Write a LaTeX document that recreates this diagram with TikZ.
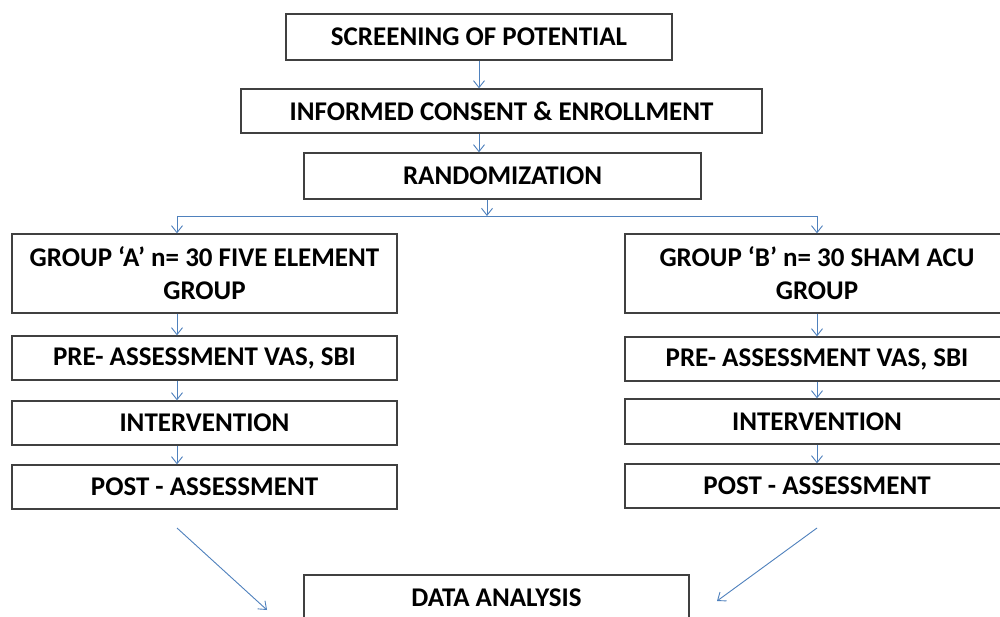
\documentclass[tikz,border=0pt]{standalone}
\usepackage{fontspec}
\setmainfont{Carlito}
\usetikzlibrary{arrows.meta}
\definecolor{arr}{HTML}{4F81BD}
\definecolor{boxc}{HTML}{404040}
\begin{document}
\begin{tikzpicture}[x=1pt,y=-1pt,
  box/.style={draw=boxc, line width=1.3pt, fill=white, inner sep=0pt,
    font=\bfseries\fontsize{27}{33}\selectfont, align=center},
  conn/.style={draw=arr, line width=0.9pt, -{Straight Barb[length=7pt,width=11pt]}},
  link/.style={draw=arr, line width=0.9pt}]
\useasboundingbox (0,0) rectangle (1000,617);
\clip (0,0) rectangle (1000,617);
\fill[white] (0,0) rectangle (1000,617);
% top chain
\node[box, minimum width=386pt, minimum height=46pt] (scr) at (479,37) {SCREENING OF POTENTIAL};
\node[box, minimum width=521pt, minimum height=44pt] (inf) at (501.5,111) {INFORMED CONSENT \& ENROLLMENT};
\node[box, minimum width=397pt, minimum height=46pt] (ran) at (502.5,176) {RANDOMIZATION};
% group A column
\node[box, minimum width=385pt, minimum height=79pt] (ga) at (204.5,273.5) {GROUP ‘A’ n= 30 FIVE ELEMENT\\GROUP};
\node[box, minimum width=385pt, minimum height=44pt] (pa) at (204.5,358) {PRE- ASSESSMENT VAS, SBI};
\node[box, minimum width=385pt, minimum height=44pt] (ia) at (204.5,423) {INTERVENTION};
\node[box, minimum width=385pt, minimum height=44pt] (pta) at (204.5,487) {POST - ASSESSMENT};
% group B column
\node[box, minimum width=384pt, minimum height=79pt] (gb) at (817,273.5) {GROUP ‘B’ n= 30 SHAM ACU\\GROUP};
\node[box, minimum width=384pt, minimum height=44pt] (pb) at (817,359) {PRE- ASSESSMENT VAS, SBI};
\node[box, minimum width=384pt, minimum height=45pt] (ib) at (817,421.5) {INTERVENTION};
\node[box, minimum width=384pt, minimum height=44pt] (ptb) at (817,486) {POST - ASSESSMENT};
% data analysis
\node[box, minimum width=385pt, minimum height=46pt] (da) at (496.5,598) {DATA ANALYSIS};
% coordinates
\coordinate (split) at (487,216);
\coordinate (la) at (177,216);
\coordinate (rb) at (817,216);
\coordinate (d1s) at (177,528);
\coordinate (d1e) at (267,610);
\coordinate (d2s) at (817,528);
\coordinate (d2e) at (717,601);
% connectors
\draw[conn] (scr.south) -- (scr.south |- inf.north);
\draw[conn] (inf.south -| scr.south) -- (ran.north -| scr.south);
\draw[conn] (ran.south -| split) -- (split);
\draw[link] (la) -- (rb);
\draw[conn] (la) -- (la |- ga.north);
\draw[conn] (rb) -- (gb.north);
\draw[conn] (ga.south -| la) -- (pa.north -| la);
\draw[conn] (pa.south -| la) -- (ia.north -| la);
\draw[conn] (ia.south -| la) -- (pta.north -| la);
\draw[conn] (gb.south) -- (pb.north);
\draw[conn] (pb.south) -- (ib.north);
\draw[conn] (ib.south) -- (ptb.north);
\draw[conn] (d1s) -- (d1e);
\draw[conn] (d2s) -- (d2e);
\end{tikzpicture}
\end{document}
